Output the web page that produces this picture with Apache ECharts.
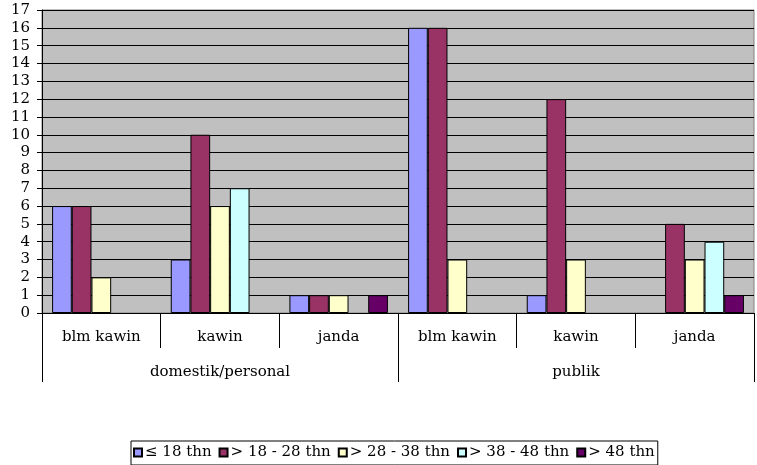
<!DOCTYPE html>
<html>
<head>
<meta charset="utf-8">
<style>
  html, body { margin: 0; padding: 0; background: #fff; }
  #chart { width: 757px; height: 465px; }
</style>
<script src="https://cdn.jsdelivr.net/npm/echarts@6/dist/echarts.min.js"></script>
</head>
<body>
<div id="chart"></div>
<script>
// Status categories, repeated under each of the two groups
const statusLabels = ['blm kawin', 'kawin', 'janda', 'blm kawin', 'kawin', 'janda'];
const groupLabels = ['domestik/personal', 'publik'];
const yTicks = { min: 0, max: 17, step: 1 };

// Age bands (null = no bar)
const age18 = [6, 3, 1, 16, 1, null];
const age18to28 = [6, 10, 1, 16, 12, 5];
const age28to38 = [2, 6, 1, 3, 3, 3];
const age38to48 = [null, 7, null, null, null, 4];
const age48 = [null, null, 1, null, null, 1];

const seriesNames = ['≤ 18 thn', '> 18 - 28 thn', '> 28 - 38 thn', '> 38 - 48 thn', '> 48 thn'];
const seriesData = [age18, age18to28, age28to38, age38to48, age48];
const colors = ['#9999FF', '#993366', '#FFFFCC', '#CCFFFF', '#660066'];

const font = 'DejaVu Serif';

const chart = echarts.init(document.getElementById('chart'));
chart.setOption({
  animation: false,
  textStyle: { fontFamily: font },
  grid: {
    left: 42, right: 3, top: 10, bottom: 152,
    show: true,
    backgroundColor: '#C0C0C0',
    borderColor: '#808080',
    borderWidth: 1
  },
  legend: {
    left: 131, top: 441,
    itemWidth: 8, itemHeight: 8, itemGap: 7,
    padding: [4, 3, 5, 2],
    borderColor: '#000', borderWidth: 1,
    icon: 'rect',
    textStyle: { fontFamily: font, fontSize: 15, color: '#000', padding: [0, 0, 0, -2] },
    data: seriesNames
  },
  xAxis: [
    {
      type: 'category',
      data: statusLabels,
      position: 'bottom',
      axisLine: { show: true, lineStyle: { color: '#000', width: 1 } },
      axisTick: { show: true, interval: 0, length: 35, lineStyle: { color: '#000', width: 1 } },
      axisLabel: { color: '#000', fontSize: 15, margin: 17, interval: 0, fontFamily: font },
      splitLine: { show: false }
    },
    {
      type: 'category',
      data: groupLabels,
      position: 'bottom',
      offset: 0,
      axisLine: { show: false },
      axisTick: { show: true, interval: 0, length: 69, lineStyle: { color: '#000', width: 1 } },
      axisLabel: { color: '#000', fontSize: 15, margin: 52, interval: 0, fontFamily: font },
      splitLine: { show: false }
    }
  ],
  yAxis: {
    type: 'value',
    min: yTicks.min, max: yTicks.max, interval: yTicks.step,
    axisLine: { show: true, lineStyle: { color: '#000' } },
    axisTick: { show: true, length: 5, lineStyle: { color: '#000' } },
    axisLabel: { color: '#000', fontSize: 15, margin: 12, fontFamily: font },
    splitLine: { show: true, lineStyle: { color: '#000', width: 1 } }
  },
  series: seriesNames.map((name, i) => ({
    name,
    type: 'bar',
    xAxisIndex: 0,
    data: seriesData[i],
    barGap: '0%',
    barCategoryGap: '17%',
    itemStyle: { color: colors[i], borderColor: '#000', borderWidth: 1 }
  }))
});
</script>
</body>
</html>
